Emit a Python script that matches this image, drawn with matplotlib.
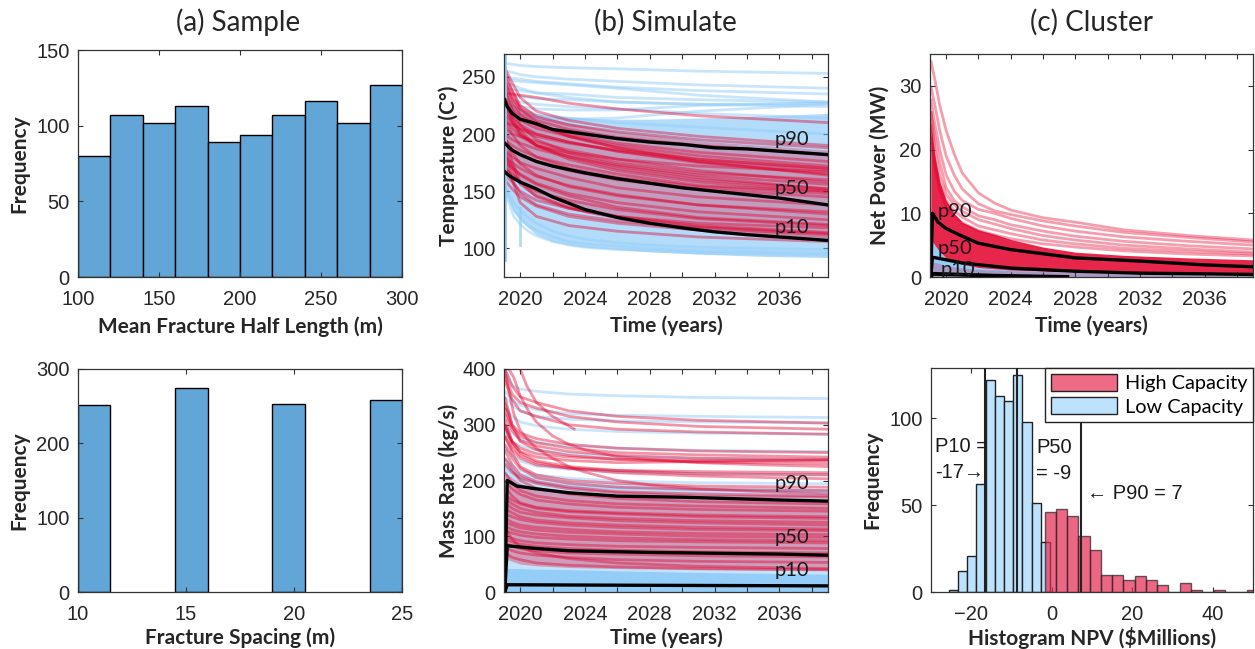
import matplotlib
matplotlib.use('Agg')
import matplotlib.pyplot as plt
from matplotlib.patches import Patch

W, H = 1255, 649
LABEL_FONT = ['Lato', 'DejaVu Sans']
TICK_FONT = ['Liberation Sans', 'DejaVu Sans']
RED = '#E3002C'
BLUE = '#93CDF8'
BAR = '#62A6D8'

# top left histograms
halflength_edges = [100, 120, 140, 160, 180, 200, 220, 240, 260, 280, 300]
halflength_freq = [80, 107, 102, 113, 89, 94, 107, 116, 102, 127]
spacing_left = [10, 14.5, 19, 23.5]
spacing_width = 1.5
spacing_freq = [251, 275, 253, 258]

# NPV histogram
npv_low_edges = [-25.6, -23.3, -21.0, -18.7, -16.4, -14.2, -11.9, -9.6, -7.3, -5.0, -2.7]
npv_low_width = 2.3
npv_low_freq = [1, 12, 21, 62, 122, 113, 110, 125, 98, 51, 29]
npv_high_edges = [-1.8, 1.0, 3.8, 6.6, 9.4, 12.2, 15.0, 17.8, 20.6, 23.4, 26.2, 29.0,
                  31.8, 34.6, 37.4, 40.2, 43.0, 45.8, 48.6]
npv_high_width = 2.8
npv_high_freq = [46, 48, 44, 32, 24, 10, 10, 7, 9, 7, 4, 0, 5, 1, 0, 1, 0, 0, 1]
npv_pct = [-16.5, -8.6, 7.3]

# time knots for the read-off ensemble curves
knots = [2019.05, 2019.5, 2020, 2021, 2023, 2026, 2031, 2039]
fine_t = [2019.05, 2019.3, 2019.6, 2020, 2020.5, 2021, 2022, 2023, 2024, 2026, 2028, 2031, 2035, 2039]
pct_t = [2019.05, 2019.2, 2019.5, 2020, 2021, 2022, 2024, 2026, 2028, 2030, 2032, 2034, 2036, 2039]

# Temperature
temp_blue_low = [150, 142, 132, 124, 118, 112, 106, 103, 101, 99, 97, 95, 93, 92]
temp_blue_up = [240, 232, 226, 222, 220, 218, 216, 215, 214, 213, 213, 214, 216, 218]
temp_red_low = [165, 165, 162, 158, 152, 147, 140, 135, 131, 126, 123, 118, 114, 112]
temp_red_up = [250, 240, 232, 226, 222, 218, 213, 210, 207, 202, 199, 194, 190, 186]
temp_blue = [
    [262, 261, 260, 259, 258, 257, 255, 253],
    [255, 254, 252, 250, 248, 246, 243, 240],
    [250, 249, 248, 246, 244, 241, 238, 235],
    [248, 247, 246, 245, 243, 240, 234, 228],
    [240, 239, 238, 236, 235, 232, 230, 228],
    [235, 234, 233, 231, 230, 228, 226, 224],
    [230, 229, 228, 226, 224, 222, 218, 214],
    [225, 222, 220, 217, 214, 210, 206, 200],
    [245, 243, 240, 236, 232, 228, 226, 227],
    [228, 226, 224, 222, 221, 221, 225, 227],
    [218, 216, 215, 214, 213, 214, 220, 226],
]
temp_blue_fine = [
    [150, 140, 128, 121, 115, 111, 106, 103, 101, 99, 98, 96, 95, 94],
    [150, 144, 134, 127, 120, 116, 110, 106, 104, 102, 100, 98, 97, 96],
    [155, 148, 140, 133, 127, 122, 115, 111, 108, 105, 103, 101, 100, 99],
]
temp_red = [
    [236, 235, 234, 232, 227, 222, 216, 210],
    [258, 245, 232, 220, 212, 205, 198, 190],
    [250, 238, 225, 215, 208, 202, 195, 188],
    [245, 232, 222, 212, 204, 197, 190, 182],
    [240, 226, 216, 208, 200, 192, 184, 176],
    [232, 222, 212, 205, 198, 190, 181, 172],
    [225, 215, 208, 200, 193, 185, 176, 168],
    [210, 208, 205, 200, 193, 185, 175, 165],
    [205, 200, 198, 193, 186, 178, 168, 158],
    [200, 195, 192, 187, 180, 172, 162, 152],
    [195, 190, 186, 180, 173, 165, 155, 150],
    [190, 186, 182, 176, 168, 160, 152, 145],
    [185, 180, 175, 170, 162, 153, 145, 138],
    [180, 175, 170, 163, 155, 147, 138, 130],
    [175, 170, 165, 157, 148, 140, 132, 125],
    [170, 165, 158, 150, 142, 134, 126, 120],
    [165, 158, 150, 142, 135, 128, 120, 114],
    [185, 160, 140, 128, 120, 115, 110, 106],
    [200, 176, 158, 145, 135, 127, 119, 113],
    [215, 205, 198, 190, 182, 173, 164, 156],
    [222, 210, 200, 190, 180, 170, 160, 152],
    [230, 215, 203, 190, 178, 168, 158, 150],
    [212, 200, 190, 180, 170, 162, 154, 148],
    [238, 222, 208, 195, 184, 175, 166, 160],
    [228, 212, 200, 190, 184, 178, 172, 167],
    [218, 210, 204, 198, 192, 186, 178, 170],
    [248, 230, 218, 208, 198, 188, 178, 170],
    [256, 238, 222, 210, 198, 188, 176, 164],
    [196, 184, 174, 164, 154, 146, 138, 132],
    [178, 172, 164, 156, 146, 136, 127, 121],
    [188, 170, 156, 146, 136, 128, 122, 118],
    [172, 160, 148, 138, 130, 124, 118, 112],
    [160, 152, 145, 137, 128, 122, 116, 110],
]
temp_p90 = [230, 224, 218, 213, 209, 204, 200, 196, 193, 191, 188, 187, 185, 182]
temp_p50 = [192, 190, 186, 182, 176, 172, 166, 161, 157, 153, 150, 147, 144, 138]
temp_p10 = [167, 165, 162, 158, 152, 145, 134, 127, 122, 118, 114.5, 112, 110, 107]
temp_spike_t = [2019.05, 2019.05, 2020, 2020]
temp_spike_y = [90, 270, 135, 103]

# Mass rate
mass_blue_solid = [42, 42, 42, 41, 40, 38, 35, 32]
mass_blue_up = [240, 225, 215, 208, 200, 195, 190, 186]
mass_red_low = [60, 55, 50, 47, 44, 42, 40, 38]
mass_red_up = [215, 205, 195, 185, 178, 172, 167, 165]
mass_blue = [
    [400, 370, 364, 360, 355, 352, 349, 347],
    [360, 345, 335, 327, 320, 317, 315, 313],
    [350, 335, 325, 315, 310, 307, 305, 303],
    [330, 315, 305, 298, 292, 288, 285, 283],
    [300, 285, 275, 268, 262, 258, 254, 252],
    [285, 270, 262, 255, 248, 243, 240, 237],
    [260, 245, 235, 226, 220, 215, 212, 210],
    [240, 228, 218, 210, 204, 199, 196, 194],
    [225, 212, 203, 196, 190, 186, 183, 180],
]
mass_red = [
    [400, 370, 350, 340, 325, 315, 308, 303],
    [390, 355, 340, 330, 315, 305, 297, 292],
    [380, 345, 325, 315, 300, 292, 287, 283],
    [340, 300, 285, 275, 265, 258, 253, 250],
    [330, 295, 280, 268, 258, 250, 246, 242],
    [320, 290, 272, 262, 252, 245, 240, 238],
    [350, 300, 270, 255, 245, 238, 233, 230],
    [310, 270, 250, 235, 225, 218, 212, 210],
    [280, 250, 225, 210, 200, 195, 190, 188],
    [230, 215, 205, 195, 185, 178, 172, 170],
    [200, 185, 175, 165, 158, 152, 148, 145],
    [175, 165, 158, 150, 144, 140, 135, 132],
    [160, 150, 143, 138, 133, 128, 124, 120],
    [140, 135, 130, 125, 120, 116, 112, 110],
    [125, 120, 115, 111, 107, 104, 100, 98],
    [110, 106, 102, 98, 95, 92, 90, 88],
    [95, 90, 86, 82, 78, 75, 72, 70],
    [80, 74, 70, 66, 62, 58, 55, 53],
    [70, 62, 58, 52, 48, 45, 42, 40],
    [115, 95, 80, 70, 60, 52, 46, 42],
    [300, 270, 258, 248, 242, 238, 236, 235],
    [295, 268, 252, 242, 236, 232, 234, 237],
    [300, 262, 245, 232, 222, 214, 208, 203],
    [280, 255, 240, 228, 222, 218, 216, 214],
    [265, 240, 222, 205, 195, 188, 184, 182],
    [255, 228, 210, 198, 188, 180, 176, 172],
    [240, 220, 200, 186, 176, 168, 162, 158],
    [215, 195, 182, 172, 164, 158, 154, 150],
    [190, 172, 160, 152, 146, 142, 138, 135],
    [168, 158, 150, 143, 136, 132, 128, 125],
    [150, 142, 135, 129, 124, 120, 116, 113],
    [132, 125, 120, 116, 112, 108, 105, 103],
    [118, 112, 108, 104, 100, 97, 94, 92],
    [100, 96, 92, 88, 85, 82, 80, 78],
    [88, 82, 78, 74, 70, 68, 65, 63],
]
mass_red_fine = [
    [400, 400, 385, 352, 325, 305, 280, 265, 255, 243, 238, 232, 228, 225],
    [400, 360, 320, 290, 272, 258, 240, 225, 215, 200, 192, 185, 180, 176],
]
mass_short_t = [2020, 2020.4, 2021, 2022, 2023.4]
mass_short = [400, 370, 340, 315, 291]
mass_p90_t = [2019.05, 2019.2, 2019.8, 2021, 2023, 2026, 2030, 2036, 2039]
mass_p90 = [0, 200, 190, 185, 178, 172, 170, 165, 163]
mass_p50_t = [2019.05, 2019.2, 2021, 2023, 2028, 2036, 2039]
mass_p50 = [0, 83, 78, 74, 71, 68, 66]
mass_p10_t = [2019.05, 2019.2, 2028, 2039]
mass_p10 = [0, 13, 12, 11]

# Net power
power_blue_up = [6, 5, 4, 3, 2.4, 2, 1.5, 1.3, 1.1, 0.9, 0.7, 0.5, 0.4, 0.3]
power_red_low = [2.5, 2.3, 2.1, 1.8, 1.6, 1.4, 1.2, 1.1, 1.0, 0.9, 0.85, 0.8, 0.75, 0.7]
power_red_up = [24, 19, 15, 12, 10, 8.6, 7.4, 6.7, 5.9, 4.7, 3.9, 3.4, 3, 2.7]
power_red_fine = [
    [34, 31, 27, 23, 19.3, 16.3, 13.2, 11.6, 10.5, 9.3, 8.6, 7.4, 6.5, 5.8],
    [30, 27, 23, 19, 16, 13.8, 11.5, 10.4, 9.8, 8.8, 8.0, 7.0, 6.2, 5.5],
    [28, 24, 20, 16, 13.5, 12, 10.6, 10.0, 9.2, 8.0, 7.2, 6.3, 5.6, 5.0],
    [26, 22, 18, 14, 12, 11, 9.6, 9, 8.2, 7.2, 6.4, 5.6, 4.9, 4.4],
    [26, 20, 16, 13, 11.3, 10.3, 9, 8.3, 7.6, 6.5, 5.8, 5, 4.4, 3.9],
    [24, 18, 14.5, 12, 10.4, 9.4, 8, 7.4, 6.8, 5.8, 5.2, 4.5, 4, 3.6],
    [22, 17, 13.5, 11, 9.5, 8.5, 7.3, 6.6, 6, 5.2, 4.7, 4.1, 3.6, 3.3],
]
power_p90_t = [2019.05, 2019.15, 2019.5, 2020, 2021, 2022, 2024, 2028, 2032, 2036, 2039]
power_p90 = [0, 10, 8.6, 7.6, 6.4, 5.3, 4.3, 3.0, 2.5, 1.9, 1.6]
power_p50_t = [2019.05, 2019.15, 2020, 2021, 2024, 2028, 2032, 2036, 2039]
power_p50 = [0, 3.1, 2.7, 2.2, 1.4, 0.9, 0.6, 0.5, 0.4]
power_p10_t = [2019.05, 2019.15, 2023, 2027.5]
power_p10 = [0, 0.5, 0.2, 0]

year_ticks = [2020, 2022, 2024, 2026, 2028, 2030, 2032, 2034, 2036, 2038]
year_labels = ['2020', '', '2024', '', '2028', '', '2032', '', '2036', '']

plt.rcParams['font.family'] = TICK_FONT
fig = plt.figure(figsize=(W / 100, H / 100), dpi=100)


def make_axes(left, top, right, bottom):
    ax = fig.add_axes([left / W, 1 - bottom / H, (right - left) / W, (bottom - top) / H])
    ax.tick_params(direction='in', top=True, right=True, labelsize=14.5, length=3.5,
                   width=0.8, color='#333333', labelcolor='#262626', pad=6)
    ax.tick_params(axis='x', pad=9)
    for s in ax.spines.values():
        s.set_linewidth(0.9)
        s.set_color('#333333')
    return ax


def labels(ax, xlabel, ylabel, xpos, ypos):
    ax.set_xlabel(xlabel, fontfamily=LABEL_FONT, fontweight='bold', fontsize=15, color='#262626')
    ax.set_ylabel(ylabel, fontfamily=LABEL_FONT, fontweight='bold', fontsize=15, color='#262626')
    ax.xaxis.set_label_coords(0.5, xpos)
    ax.yaxis.set_label_coords(ypos, 0.5)


def time_axis(ax):
    ax.set_xlim(2019, 2039)
    ax.set_xticks(year_ticks)
    ax.set_xticklabels(year_labels)


def ensemble(ax, t, curves, color, alpha):
    for y in curves:
        ax.plot(t, y, color=color, lw=2, alpha=alpha, solid_capstyle='butt')


def pct_label(ax, x, y, s):
    ax.text(x, y, s, fontfamily=LABEL_FONT, fontsize=14.5, color='#1a1a1a', ha='left', va='center')


# (a) Sample
ax = make_axes(78, 50, 402, 277)
ax.bar(halflength_edges[:-1], halflength_freq, width=20, align='edge', color=BAR, edgecolor='black', lw=1)
ax.set_xlim(100, 300)
ax.set_ylim(0, 150)
ax.set_xticks([100, 150, 200, 250, 300])
ax.set_yticks([0, 50, 100, 150])
labels(ax, 'Mean Fracture Half Length (m)', 'Frequency', -0.172, -0.15)

ax = make_axes(78, 369, 402, 592)
ax.bar(spacing_left, spacing_freq, width=spacing_width, align='edge', color=BAR, edgecolor='black', lw=1)
ax.set_xlim(10, 25)
ax.set_ylim(0, 300)
ax.set_xticks([10, 15, 20, 25])
ax.set_yticks([0, 100, 200, 300])
labels(ax, 'Fracture Spacing (m)', 'Frequency', -0.158, -0.15)

# (b) Simulate
ax = make_axes(504, 54, 828, 277)
ax.fill_between(fine_t, temp_blue_low, temp_blue_up, color=BLUE, alpha=0.7, lw=0)
ax.fill_between(fine_t, temp_red_low, temp_red_up, color=RED, alpha=0.28, lw=0)
ensemble(ax, knots, temp_blue, BLUE, 0.5)
ensemble(ax, fine_t, temp_blue_fine, BLUE, 0.5)
ensemble(ax, knots, temp_red, RED, 0.42)
ax.plot(temp_spike_t[:2], temp_spike_y[:2], color=BLUE, lw=2)
ax.plot(temp_spike_t[2:], temp_spike_y[2:], color=BLUE, lw=2, alpha=0.7)
ax.plot(pct_t, temp_p90, 'k', lw=2.4)
ax.plot(pct_t, temp_p50, 'k', lw=2.4)
ax.plot(pct_t, temp_p10, 'k', lw=2.4)
time_axis(ax)
ax.set_ylim(75, 270)
ax.set_yticks([100, 150, 200, 250])
pct_label(ax, 2035.7, 195, 'p90')
pct_label(ax, 2035.7, 152, 'p50')
pct_label(ax, 2035.7, 118, 'p10')
labels(ax, 'Time (years)', 'Temperature (C°)', -0.172, -0.14)

ax = make_axes(504, 369, 828, 592)
ax.fill_between(knots, 0, mass_blue_up, color=BLUE, alpha=0.55, lw=0)
ax.fill_between(knots, 0, mass_blue_solid, color=BLUE, lw=0)
ax.fill_between(knots, mass_red_low, mass_red_up, color=RED, alpha=0.3, lw=0)
ensemble(ax, knots, mass_blue, BLUE, 0.5)
ensemble(ax, knots, mass_red, RED, 0.42)
ensemble(ax, fine_t, mass_red_fine, RED, 0.42)
ensemble(ax, mass_short_t, [mass_short], RED, 0.42)
ax.plot(mass_p90_t, mass_p90, 'k', lw=2.4)
ax.plot(mass_p50_t, mass_p50, 'k', lw=2.4)
ax.plot(mass_p10_t, mass_p10, 'k', lw=2.4)
time_axis(ax)
ax.set_ylim(0, 400)
ax.set_yticks([0, 100, 200, 300, 400])
pct_label(ax, 2035.7, 195, 'p90')
pct_label(ax, 2035.7, 97, 'p50')
pct_label(ax, 2035.7, 39, 'p10')
labels(ax, 'Time (years)', 'Mass Rate (kg/s)', -0.158, -0.14)

# (c) Cluster
ax = make_axes(930, 54, 1253, 277)
ax.fill_between(fine_t, power_red_low, power_red_up, color=RED, alpha=0.85, lw=0)
ax.fill_between(fine_t, 0, power_blue_up, color=BLUE, lw=0)
ax.fill_between(fine_t, 0, power_red_low, color=RED, alpha=0.25, lw=0)
ensemble(ax, fine_t, power_red_fine, RED, 0.38)
ax.plot(power_p90_t, power_p90, 'k', lw=2.4)
ax.plot(power_p50_t, power_p50, 'k', lw=2.4)
ax.plot(power_p10_t, power_p10, 'k', lw=2.8)
time_axis(ax)
ax.set_ylim(0, 35)
ax.set_yticks([0, 10, 20, 30])
pct_label(ax, 2019.5, 10.3, 'p90')
pct_label(ax, 2019.45, 4.4, 'p50')
pct_label(ax, 2019.65, 1.1, 'p10')
labels(ax, 'Time (years)', 'Net Power (MW)', -0.172, -0.125)

ax = make_axes(931, 368, 1253, 592)
ax.bar(npv_low_edges, npv_low_freq, width=npv_low_width, align='edge', color='#BDE2FD',
       edgecolor='#222222', lw=1, zorder=2)
ax.bar(npv_high_edges, npv_high_freq, width=npv_high_width, align='edge', color='#E5274F',
       alpha=0.7, edgecolor='#222222', lw=1, zorder=3)
for v in npv_pct:
    ax.axvline(v, color='#222222', lw=1.5, zorder=4)
ax.set_xlim(-30, 50)
ax.set_ylim(0, 129)
ax.set_xticks([-20, 0, 20, 40])
ax.set_yticks([0, 50, 100])
ax.text(-28.9, 84, 'P10 =', fontsize=14.5, color='#1a1a1a', va='center', zorder=5)
ax.text(-28.9, 69, '-17→', fontsize=14.5, color='#1a1a1a', va='center', zorder=5)
ax.text(-3.9, 83, 'P50', fontsize=14.5, color='#1a1a1a', va='center', zorder=5)
ax.text(-3.9, 68, '= -9', fontsize=14.5, color='#1a1a1a', va='center', zorder=5)
ax.text(8.7, 57, '← P90 = 7', fontsize=14.5, color='#1a1a1a', va='center', zorder=5)
handles = [Patch(facecolor='#EF6A84', edgecolor='#222222', label='High Capacity'),
           Patch(facecolor='#BDE2FD', edgecolor='#222222', label='Low Capacity')]
leg = ax.legend(handles=handles, loc='upper right', prop={'family': LABEL_FONT, 'size': 14.3},
                fancybox=False, framealpha=1, edgecolor='#222222', borderaxespad=0, borderpad=0.3,
                handlelength=3.3, handleheight=0.95, handletextpad=0.4, labelspacing=0.25)
leg.set_zorder(10)
labels(ax, 'Histogram NPV ($Millions)', 'Frequency', -0.158, -0.15)

# column titles
for x, s in [(238, '(a) Sample'), (665, '(b) Simulate'), (1091, '(c) Cluster')]:
    fig.text(x / W, 1 - 22 / H, s, fontfamily=LABEL_FONT, fontsize=20, color='#262626', ha='center', va='center')

fig.savefig('out.png', dpi=100)
